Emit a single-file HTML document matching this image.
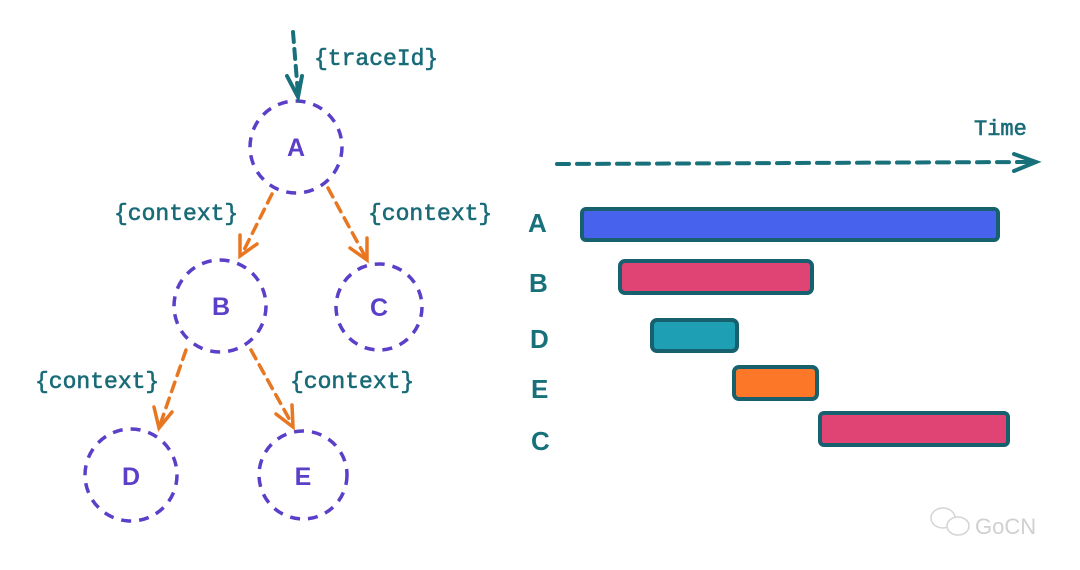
<!DOCTYPE html>
<html><head><meta charset="utf-8"><style>
html,body{margin:0;padding:0;background:#fff;width:1080px;height:570px;overflow:hidden}
</style></head><body>
<svg width="1080" height="570" viewBox="0 0 1080 570" xmlns="http://www.w3.org/2000/svg">
<g fill="none" stroke="#5b3fc8" stroke-width="3.5" stroke-dasharray="10 8">
<circle cx="296" cy="147" r="46"/>
<circle cx="220" cy="306" r="46"/>
<circle cx="379" cy="307" r="43"/>
<circle cx="131" cy="475" r="46"/>
<circle cx="303" cy="475" r="44"/>
</g>
<g font-family="Liberation Sans, sans-serif" font-size="25" font-weight="bold" fill="#5b3fc8" text-anchor="middle">
<text x="296" y="156">A</text><text x="221" y="315">B</text><text x="379" y="316">C</text><text x="131" y="485">D</text><text x="303" y="485">E</text>
</g>
<g stroke="#17707a" stroke-width="4" fill="none" stroke-linecap="round">
<line x1="293" y1="32" x2="298" y2="94" stroke-dasharray="10 7"/>
<polyline points="287,76 298,97 302,76"/>
</g>
<g stroke="#e87722" stroke-width="3.5" fill="none" stroke-linecap="round">
<line x1="272" y1="194" x2="242" y2="254" stroke-dasharray="10 7"/>
<polyline points="240,235 240,256 257,244"/>
<line x1="328" y1="188" x2="366" y2="258" stroke-dasharray="10 7"/>
<polyline points="350,248 367,260 367,238"/>
<line x1="186" y1="350" x2="160" y2="425" stroke-dasharray="10 7"/>
<polyline points="154,407 159,428 172,412"/>
<line x1="251" y1="350" x2="292" y2="424" stroke-dasharray="10 7"/>
<polyline points="276,414 293,427 292,405"/>
</g>
<g font-family="Liberation Mono, monospace" font-size="23" fill="#1a6b78" stroke="#1a6b78" stroke-width="0.6">
<text x="314" y="65">{traceId}</text>
<text x="114" y="220">{context}</text>
<text x="368" y="220">{context}</text>
<text x="35" y="388">{context}</text>
<text x="290" y="388">{context}</text>
<text x="974" y="135" font-size="22">Time</text>
</g>
<g stroke="#17707a" stroke-width="4" fill="none" stroke-linecap="round">
<line x1="557" y1="164" x2="1030" y2="162" stroke-dasharray="12 8"/>
<polyline points="1014,154 1036,162 1014,171"/>
</g>
<g stroke="#17616e" stroke-width="4" stroke-linejoin="round">
<rect x="582" y="209" width="416" height="31" rx="4" fill="#4763ee"/>
<rect x="620" y="261" width="192" height="32" rx="5" fill="#e04475"/>
<rect x="652" y="320" width="85" height="31" rx="5" fill="#1f9fb3"/>
<rect x="734" y="367" width="83" height="32" rx="5" fill="#fc7828"/>
<rect x="820" y="413" width="188" height="32" rx="4" fill="#e04475"/>
</g>
<g font-family="Liberation Sans, sans-serif" font-size="26" font-weight="bold" fill="#17707a">
<text x="528" y="232">A</text><text x="529" y="292">B</text><text x="530" y="348">D</text><text x="531" y="398">E</text><text x="531" y="450">C</text>
</g>
<g stroke="#d4d4d4" stroke-width="1.5" fill="none">
<ellipse cx="943" cy="518" rx="12" ry="10"/>
<ellipse cx="958" cy="526" rx="11" ry="9" fill="#fff"/>
</g>
<text x="975" y="534" font-family="Liberation Sans, sans-serif" font-size="22" fill="#d0d0d0">GoCN</text>
</svg>
</body></html>
